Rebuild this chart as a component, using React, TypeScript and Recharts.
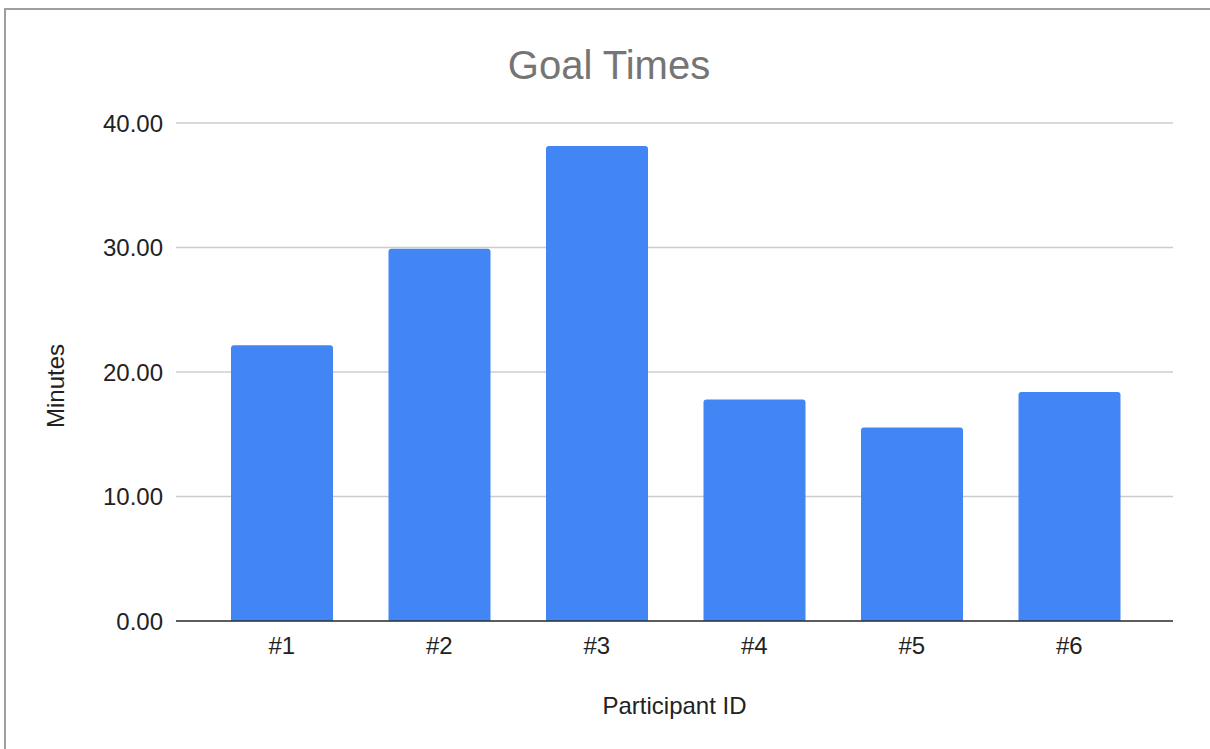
import React from 'react';
import { BarChart, Bar, XAxis, YAxis, CartesianGrid, Label } from 'recharts';

// 参加者ごとのゴール到達時間（分）
const participants = ['#1', '#2', '#3', '#4', '#5', '#6'];
const minutes = [22.15, 29.9, 38.15, 17.8, 15.55, 18.4];
const yTicks = [0, 10, 20, 30, 40];

const chartData = participants.map((id, i) => ({ id, minutes: minutes[i] }));

const FONT = '"Liberation Sans", Arial, sans-serif';

export default function App() {
    return (
        <div style={{ position: 'absolute', left: 0, top: 0, width: 1210, height: 749, background: '#fff', fontFamily: FONT }}>
            {/* 外枠（上と左だけ見える） */}
            <div style={{
                position: 'absolute',
                left: 4,
                top: 8,
                width: 1206,
                height: 741,
                borderTop: '2px solid #9e9e9e',
                borderLeft: '2px solid #9e9e9e',
                boxSizing: 'border-box'
            }}>
                <BarChart
                    width={1204}
                    height={739}
                    data={chartData}
                    margin={{ top: 113, right: 37, bottom: 0, left: 0 }}
                >
                    <CartesianGrid vertical={false} stroke="#cccccc" strokeWidth={1.5} />
                    <XAxis
                        dataKey="id"
                        height={128}
                        padding={{ left: 27, right: 25 }}
                        axisLine={{ stroke: '#333333', strokeWidth: 1.5 }}
                        tickLine={false}
                        tickMargin={10}
                        tick={{ fill: '#222222', fontSize: 24, fontFamily: FONT }}
                    >
                        <Label
                            content={({ viewBox }: any) => (
                                <text
                                    x={viewBox.x + viewBox.width / 2}
                                    y={704}
                                    textAnchor="middle"
                                    fill="#222222"
                                    fontSize={24}
                                    fontFamily={FONT}
                                >
                                    Participant ID
                                </text>
                            )}
                        />
                    </XAxis>
                    <YAxis
                        width={170}
                        domain={[0, 40]}
                        ticks={yTicks}
                        axisLine={false}
                        tickLine={false}
                        tickMargin={7}
                        tickFormatter={(v: number) => v.toFixed(2)}
                        tick={{ fill: '#222222', fontSize: 24, fontFamily: FONT }}
                    >
                        <Label
                            content={() => (
                                <text
                                    x={49}
                                    y={376}
                                    transform="rotate(-90 49 376)"
                                    textAnchor="middle"
                                    dominantBaseline="central"
                                    fill="#222222"
                                    fontSize={24}
                                    fontFamily={FONT}
                                >
                                    Minutes
                                </text>
                            )}
                        />
                    </YAxis>
                    <Bar
                        dataKey="minutes"
                        fill="#4285f4"
                        barSize={102}
                        radius={[3, 3, 0, 0]}
                        isAnimationActive={false}
                    />
                </BarChart>
            </div>
            {/* タイトル */}
            <div style={{
                position: 'absolute',
                left: 0,
                top: 45,
                width: 1218,
                textAlign: 'center',
                fontSize: 40,
                lineHeight: 1,
                color: '#757575',
                fontFamily: FONT
            }}>
                Goal Times
            </div>
        </div>
    );
}
